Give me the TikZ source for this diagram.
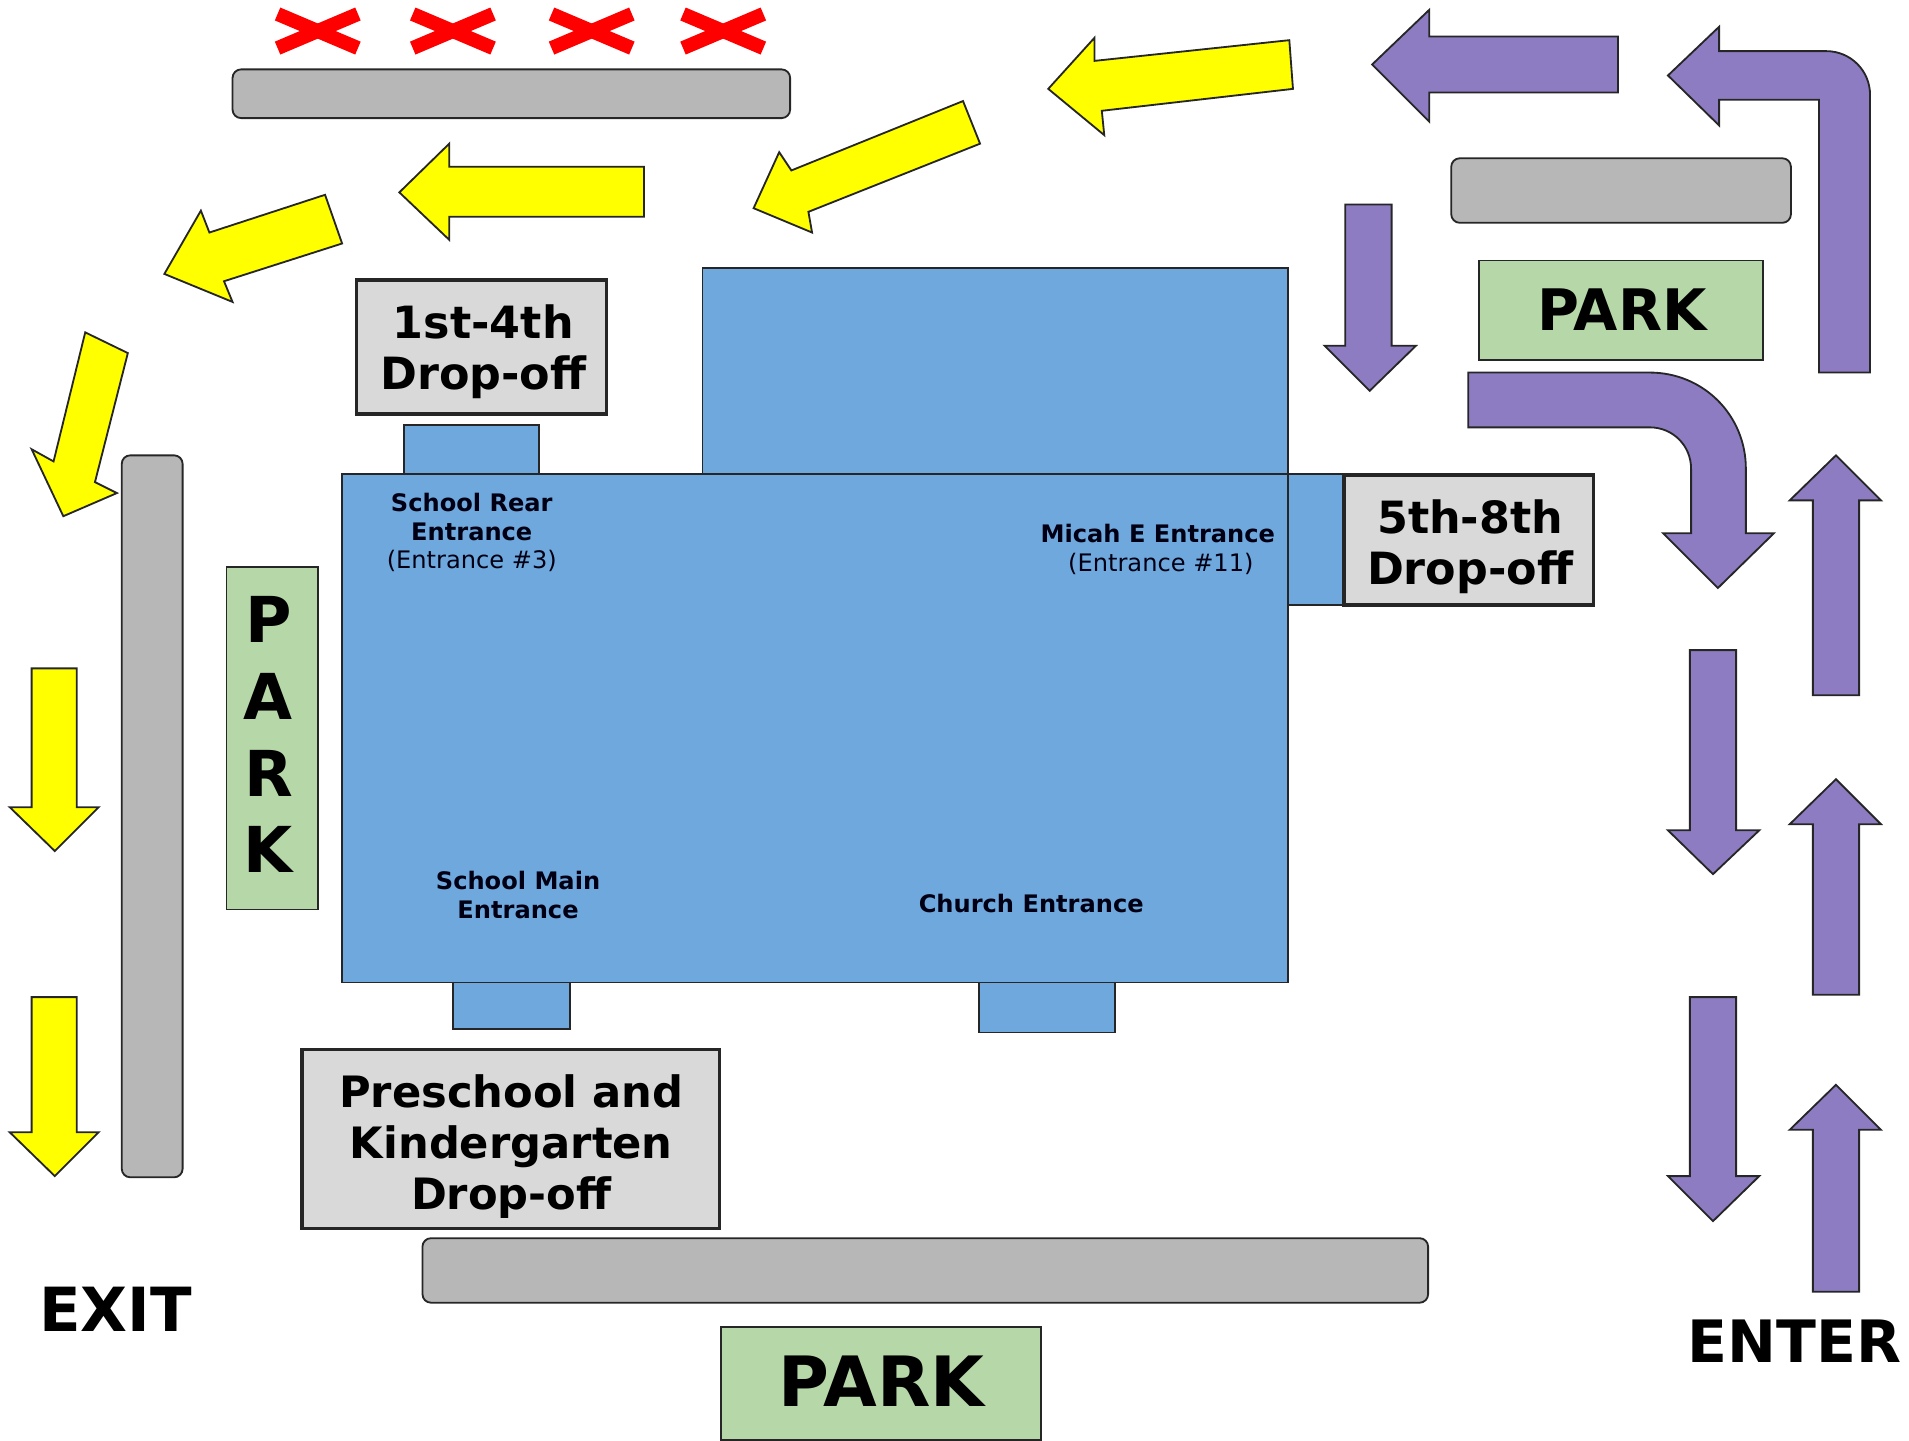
\documentclass[tikz,border=0pt]{standalone}
\usepackage{fontspec}
\setmainfont{DejaVu Sans}
\definecolor{cgrey}{HTML}{B7B7B7}
\definecolor{cblue}{HTML}{6FA8DC}
\definecolor{cgreen}{HTML}{B6D7A8}
\definecolor{cpurple}{HTML}{8E7CC3}
\definecolor{clight}{HTML}{D9D9D9}
\definecolor{cyellow}{HTML}{FFFF00}
\definecolor{cred}{HTML}{FF0000}
\definecolor{cline}{HTML}{262626}
\newcommand{\fsz}[2]{\fontsize{#1}{#2}\selectfont}
\tikzset{
  bar/.style={draw=cline,fill=cgrey,line width=1.5pt,rounded corners=7pt,inner sep=0,minimum width=#1},
  wing/.style={draw=cline,fill=cblue,line width=1.5pt,inner sep=0,minimum width=#1},
  dropbox/.style={draw=cline,fill=clight,line width=2.8pt,inner sep=0},
  droptext/.style={inner sep=0,align=center,font=\bfseries\fsz{36.5}{42}},
  parkbox/.style={draw=cline,fill=cgreen,line width=1.5pt,inner sep=0},
  parktext/.style={inner sep=0,align=center,font=\bfseries\fsz{#1}{63}},
  ylw/.style={draw=cline,fill=cyellow,line width=1.5pt,line join=miter},
  prp/.style={draw=cline,fill=cpurple,line width=1.5pt,line join=miter},
  nope/.style={draw=cred,line width=11.5pt},
  lbl/.style={inner sep=0,align=center,text=black!92!blue,font=\fsz{19.8}{23.6}},
  big/.style={inner sep=0,font=\bfseries\fsz{#1}{50}}
}
\begin{document}
\begin{tikzpicture}[x=1pt,y=-1pt]
\useasboundingbox (0,0) rectangle (1568,1182.8);
% red crosses
\foreach \c/\n in {261/a,372/b,486/c,594/d}{
  \coordinate (x\n1) at (\c-33,11.5);
  \coordinate (x\n2) at (\c+33,39.5);
  \coordinate (x\n3) at (\c-33,39.5);
  \coordinate (x\n4) at (\c+33,11.5);
  \draw[nope] (x\n1) -- (x\n2);
  \draw[nope] (x\n3) -- (x\n4);
}
% grey bars
\node[bar=458pt,minimum height=40pt] (bartop) at (420,77) {};
\node[bar=279pt,minimum height=53pt] (barright) at (1331.5,156.5) {};
\node[bar=50pt,minimum height=593pt] (barleft) at (125,670.5) {};
\node[bar=826pt,minimum height=53pt] (barbottom) at (760,1043.5) {};
% building
\node[wing=481pt,minimum height=169pt] (upper) at (817.5,304.5) {};
\node[wing=111pt,minimum height=40pt] (tabrear) at (387.5,369) {};
\node[wing=46pt,minimum height=108pt] (tabmicah) at (1081,443) {};
\node[wing=96pt,minimum height=40pt] (tabmain) at (420,825) {};
\node[wing=112pt,minimum height=41pt] (tabchurch) at (860,827.5) {};
\node[wing=777pt,minimum height=418pt] (main) at (669.5,598) {};
% drop-off boxes
\node[dropbox,minimum width=205pt,minimum height=110pt] (d14) at (395.5,285) {};
\node[droptext] (d14t) at (397,289) {1st-4th\\Drop-off};
\node[dropbox,minimum width=205pt,minimum height=107pt] (d58) at (1206.5,443.5) {};
\node[droptext] (d58t) at (1207.5,449) {5th-8th\\Drop-off};
\node[dropbox,minimum width=343pt,minimum height=147pt] (dpre) at (419.5,935.5) {};
\node[droptext,font=\bfseries\fsz{35.5}{42}] (dpret) at (420,942) {Preschool and\\Kindergarten\\Drop-off};
% park boxes
\node[parkbox,minimum width=233pt,minimum height=82pt] (ptop) at (1331.5,255) {};
\node[parktext=47] (ptopt) at (1332,254) {PARK};
\node[parkbox,minimum width=75pt,minimum height=281pt] (pleft) at (223.5,606.5) {};
\node[parktext=52] (pleftt) at (220.5,603.5) {P\\A\\R\\K};
\node[parkbox,minimum width=263pt,minimum height=93pt] (pbot) at (723.5,1136.5) {};
\node[parktext=57] (pbott) at (724,1134.5) {PARK};
% labels
\node[lbl] (lrear) at (387.5,437.5) {\textbf{School Rear}\\\textbf{Entrance}\\(Entrance \#3)};
\node[lbl] (lmicah) at (951,451) {\textbf{Micah E Entrance}\\\hspace*{5pt}(Entrance \#11)};
\node[lbl] (lmain) at (425.5,735) {\textbf{School Main}\\\textbf{Entrance}};
\node[lbl] (lchurch) at (847,742) {\textbf{Church Entrance}};
\node[big=50] (exit) at (95,1075.5) {EXIT};
\node[big=48] (enter) at (1474,1101.5) {ENTER};
% yellow arrows
\draw[ylw] (1059,33) -- (899,50) -- (899,31) -- (861,73) -- (907,111) -- (905,91) -- (1062,73) -- cycle;
\draw[ylw] (791,83) -- (650,140) -- (640,125) -- (619,171) -- (667,191) -- (664,174) -- (805,118) -- cycle;
\draw[ylw] (529,137) -- (369,137) -- (369,118) -- (328,158) -- (369,197) -- (369,178) -- (529,178) -- cycle;
\draw[ylw] (267,160) -- (172,191) -- (165,173) -- (135,225) -- (191,248) -- (184,231) -- (281,200) -- cycle;
\draw[ylw] (70,273) -- (44,379) -- (26,369) -- (52,424) -- (96,405) -- (78,396) -- (105,290) -- cycle;
\draw[ylw] (26,549) -- (26,663) -- (8,663) -- (45,699) -- (81,663) -- (63,663) -- (63,549) -- cycle;
\draw[ylw] (26,819) -- (26,930) -- (8,930) -- (45,966) -- (81,930) -- (63,930) -- (63,819) -- cycle;
% purple arrows
\draw[prp] (1329,30) -- (1174,30) -- (1174,8) -- (1127,53) -- (1174,100) -- (1174,76) -- (1329,76) -- cycle;
\draw[prp] (1370,62) -- (1412,22) -- (1412,42) -- (1500,42) .. controls (1520,42) and (1536,58) .. (1536,78) -- (1536,306) -- (1494,306) -- (1494,82) -- (1412,82) -- (1412,103) -- cycle;
\draw[prp] (1105,168) -- (1105,284) -- (1088,284) -- (1125,321) -- (1163,284) -- (1143,284) -- (1143,168) -- cycle;
\draw[prp] (1206,306) -- (1355,306) .. controls (1399,306) and (1434,341) .. (1434,385) -- (1434,438) -- (1457,438) -- (1411,483) -- (1366,438) -- (1389,438) -- (1389,385) .. controls (1389,366) and (1374,351) .. (1355,351) -- (1206,351) -- cycle;
\draw[prp] (1489,571) -- (1489,411) -- (1470,411) -- (1508,374) -- (1545,411) -- (1527,411) -- (1527,571) -- cycle;
\draw[prp] (1489,817) -- (1489,677) -- (1470,677) -- (1508,640) -- (1545,677) -- (1527,677) -- (1527,817) -- cycle;
\draw[prp] (1489,1061) -- (1489,928) -- (1470,928) -- (1508,891) -- (1545,928) -- (1527,928) -- (1527,1061) -- cycle;
\draw[prp] (1388,534) -- (1388,682) -- (1370,682) -- (1407,718) -- (1445,682) -- (1426,682) -- (1426,534) -- cycle;
\draw[prp] (1388,819) -- (1388,966) -- (1370,966) -- (1407,1003) -- (1445,966) -- (1426,966) -- (1426,819) -- cycle;
\end{tikzpicture}
\end{document}
